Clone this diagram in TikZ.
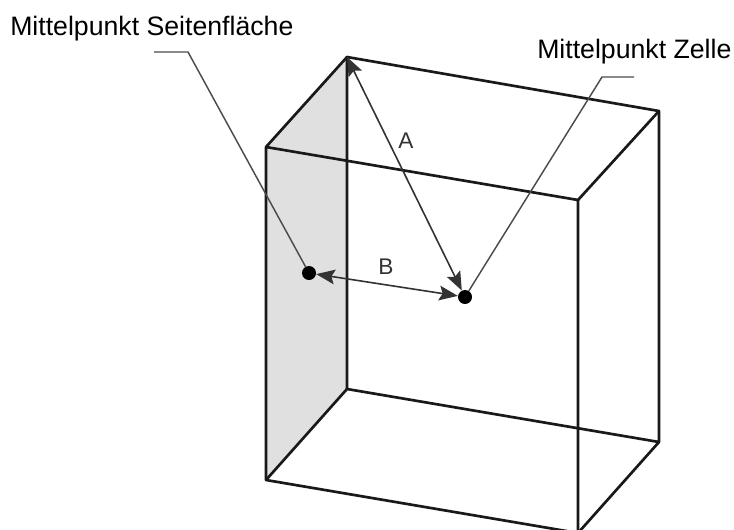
\documentclass[tikz,border=0pt]{standalone}
\usepackage{fontspec}
\setmainfont{Liberation Sans}
\usepackage{tikz}
\usetikzlibrary{arrows.meta, positioning}

\begin{document}
\begin{tikzpicture}[
  x=0.75pt, y=-0.75pt,
  every node/.style={font=\fontsize{20}{24}\selectfont},
  caption/.style={anchor=base west, inner sep=0pt},
  letter/.style={font=\fontsize{17}{20}\selectfont, text=black!80, inner sep=0pt},
  dot/.style={circle, fill=black, inner sep=0pt, minimum size=10.5pt},
  edge/.style={line width=2pt, draw=black!90, line cap=round, line join=round},
  leader/.style={line width=1.1pt, draw=black!70},
  dimen/.style={{Stealth[length=14pt, width=11pt, inset=2.5pt]}-{Stealth[length=14pt, width=11pt, inset=2.5pt]},
                line width=1.2pt, draw=black!80},
]
\useasboundingbox (0,0) rectangle (734,529);

% Corners
\coordinate (tl) at (266,147);
\coordinate (tr) at (578,200);
\coordinate (bl) at (266,480);
\coordinate (br) at (578,533);
\coordinate (tlb) at (347,57);
\coordinate (trb) at (659,111);
\coordinate (blb) at (347,389);
\coordinate (brb) at (659,442);

% Side face
\fill[black!12] (tl) -- (tlb) -- (blb) -- (bl) -- cycle;

% Edges
\draw[edge] (tl) -- (tr) -- (br) -- (bl) -- cycle;
\draw[edge] (tlb) -- (trb) -- (brb) -- (blb) -- cycle;
\draw[edge] (tl) -- (tlb);
\draw[edge] (tr) -- (trb);
\draw[edge] (bl) -- (blb);
\draw[edge] (br) -- (brb);

% Points
\node[dot] (side) at (309,273) {};
\node[dot] (cell) at (465,297) {};

% Labels
\node[caption] (sidetext) at (10,35) {Mittelpunkt Seitenfl\"ache};
\node[caption] (celltext) at (537,58) {Mittelpunkt Zelle};
\node[letter] (a) at (406,141) {A};
\node[letter] (b) at (386,267) {B};

% Leaders
\coordinate (sidefree) at (154,52);
\coordinate (sideknee) at (188,52);
\coordinate (cellfree) at (634,77);
\coordinate (cellknee) at (602,77);
\draw[leader] (sidefree) -- (sideknee) -- (side);
\draw[leader] (cellfree) -- (cellknee) -- (cell);

% Arrows
\draw[dimen] (tlb) -- (cell);
\draw[dimen] (side) -- (cell);
\end{tikzpicture}
\end{document}
